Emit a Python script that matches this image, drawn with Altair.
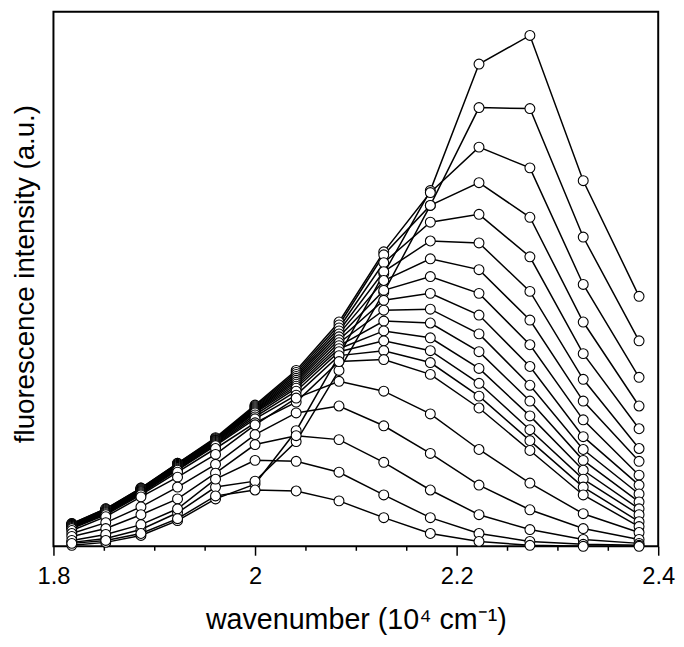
import altair as alt
import pandas as pd

# excitation wavenumbers (10^4 cm^-1)
wavenumber = [1.8182, 1.8519, 1.8868, 1.9231, 1.9608, 2.0000, 2.0408,
              2.0833, 2.1277, 2.1739, 2.2222, 2.2727, 2.3256, 2.3810]

# fluorescence intensity (a.u.), one list per spectrum
c01 = [1, 4, 11, 26, 48, 63, 117, 193, 276, 360, 488, 517, 370, 253]
c02 = [4, 8, 17, 34, 60, 66, 106, 178, 257, 345, 444, 443, 313, 208]
c03 = [23, 38, 59, 84, 110, 143, 178, 227, 298, 358, 404, 383, 265, 171]
c04 = [23, 38, 59, 84, 109, 142, 176, 224, 295, 345, 368, 333, 227, 142]
c05 = [22, 37, 58, 83, 109, 141, 174, 221, 287, 328, 336, 293, 195, 119]
c06 = [22, 37, 58, 83, 108, 140, 172, 218, 278, 309, 307, 258, 169, 99]
c07 = [22, 37, 57, 82, 108, 139, 170, 215, 269, 291, 280, 229, 147, 86]
c08 = [21, 36, 57, 82, 107, 138, 168, 212, 259, 273, 256, 204, 128, 72]
c09 = [21, 36, 56, 81, 107, 137, 166, 209, 249, 256, 234, 182, 111, 62]
c10 = [21, 35, 56, 81, 106, 136, 164, 206, 239, 240, 215, 163, 98, 53]
c11 = [20, 35, 55, 80, 105, 135, 162, 203, 228, 226, 197, 147, 87, 45]
c12 = [20, 34, 55, 79, 104, 133, 160, 200, 218, 211, 180, 132, 77, 38]
c13 = [19, 34, 54, 78, 103, 131, 157, 197, 208, 198, 165, 118, 68, 32]
c14 = [19, 33, 53, 77, 102, 129, 153, 193, 198, 186, 152, 107, 60, 25]
c15 = [18, 32, 52, 75, 99, 125, 146, 187, 189, 174, 140, 97, 52, 20]
c16 = [16, 30, 50, 70, 93, 123, 150, 167, 157, 134, 98, 64, 33, 14]
c17 = [13, 24, 40, 60, 83, 113, 135, 142, 122, 94, 62, 37, 18, 7]
c18 = [10, 18, 32, 48, 74, 103, 112, 108, 85, 57, 32, 17, 7, 3]
c19 = [6, 12, 22, 38, 68, 87, 86, 75, 52, 29, 13, 5, 2, 1]
c20 = [3, 6, 13, 28, 51, 57, 56, 46, 29, 13, 5, 1, 0, 0]

curves = [c01, c02, c03, c04, c05, c06, c07, c08, c09, c10,
          c11, c12, c13, c14, c15, c16, c17, c18, c19, c20]

x_tick_values = [1.8, 1.85, 1.9, 1.95, 2.0, 2.05, 2.1, 2.15, 2.2, 2.25, 2.3, 2.35, 2.4]

rows = []
for i, vals in enumerate(curves):
    for xv, yv in zip(wavenumber, vals):
        rows.append({"curve": i + 1, "x": xv, "y": yv})
df = pd.DataFrame(rows)

FONT = "Liberation Sans"
major_test = "abs(datum.value*5 - round(datum.value*5)) < 0.001"

x_enc = alt.X(
    "x:Q",
    scale=alt.Scale(domain=[1.8, 2.4], nice=False, zero=False),
    axis=alt.Axis(
        values=x_tick_values,
        format=".1~f",
        labelExpr=f"{major_test} ? datum.label : ''",
        tickSize={"condition": {"test": major_test, "value": 9}, "value": 4},
        tickColor="black",
        tickWidth=1.5,
        domain=False,
        grid=False,
        labelFont=FONT,
        labelFontSize=24,
        labelColor="black",
        labelPadding=10,
        labelFlush=False,
        title="wavenumber (10⁴ cm⁻¹)",
        titleFont=FONT,
        titleFontSize=29,
        titleFontWeight="normal",
        titleColor="black",
        titlePadding=17,
    ),
)
y_enc = alt.Y(
    "y:Q",
    scale=alt.Scale(domain=[0, 541], nice=False, zero=False),
    axis=alt.Axis(
        labels=False,
        ticks=False,
        domain=False,
        grid=False,
        title="fluorescence intensity (a.u.)",
        titleFont=FONT,
        titleFontSize=28,
        titleFontWeight="normal",
        titleColor="black",
        titlePadding=14,
        titleY=265,
    ),
)

base = alt.Chart(df)
lines = base.mark_line(color="black", strokeWidth=1.5).encode(
    x=x_enc, y=y_enc, detail="curve:N", order="x:Q"
)
points = base.mark_point(
    shape="circle", filled=True, fill="white", stroke="black",
    strokeWidth=1.1, size=100, opacity=1
).encode(x="x:Q", y="y:Q")

chart = (
    alt.layer(lines, points)
    .properties(
        width=612,
        height=541,
        autosize=alt.AutoSizeParams(type="none"),
        padding={"left": 46, "top": 0, "right": 18, "bottom": 90},
        background="white",
    )
    .configure_view(stroke="black", strokeWidth=2)
)

chart.save("out.html", embed_options={"renderer": "svg", "actions": False})
